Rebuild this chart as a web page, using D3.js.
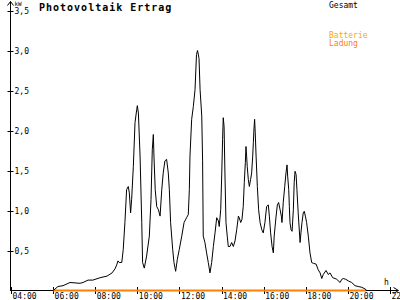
<!DOCTYPE html>
<html><head><meta charset="utf-8">
<script src="https://cdnjs.cloudflare.com/ajax/libs/d3/7.8.5/d3.min.js"></script>
<style>
html,body{margin:0;padding:0;background:#fff;}
svg{display:block;}
text{font-family:"DejaVu Sans Mono",monospace;}
</style></head><body>
<svg id="c" width="400" height="300"></svg>
<script>
const title = "Photovoltaik Ertrag";
const yUnit = "kW";
const xUnit = "h";
const xTickHours = [4,6,8,10,12,14,16,18,20,22];
const xTickLabels = ["04:00","06:00","08:00","10:00","12:00","14:00","16:00","18:00","20:00","22:"];
const yTickValues = [0.5,1.0,1.5,2.0,2.5,3.0,3.5];
const yTickLabels = ["0,5","1,0","1,5","2,0","2,5","3,0","3,5"];
const legendNames = ["Gesamt","Batterie","Ladung"];

// Gesamt (total) series: hour of day, kW
const gesamtHours = [6.01,6.23,6.47,6.80,7.28,7.42,7.66,7.89,8.23,8.56,8.80,8.94,9.02,9.08,9.14,9.26,9.33,9.41,9.49,9.57,9.62,9.68,9.73,9.81,9.89,9.97,10.00,10.05,10.13,10.21,10.25,10.33,10.44,10.57,10.65,10.71,10.76,10.79,10.85,10.92,11.00,11.08,11.16,11.23,11.31,11.39,11.47,11.52,11.58,11.68,11.74,11.82,11.90,11.99,12.11,12.22,12.34,12.42,12.47,12.50,12.58,12.66,12.74,12.81,12.86,12.93,12.98,13.06,13.10,13.13,13.21,13.29,13.37,13.45,13.53,13.61,13.69,13.77,13.85,13.89,13.96,14.01,14.05,14.08,14.12,14.16,14.21,14.27,14.32,14.40,14.48,14.56,14.64,14.72,14.80,14.84,14.91,14.97,15.03,15.08,15.13,15.16,15.19,15.22,15.27,15.32,15.38,15.43,15.48,15.51,15.54,15.57,15.60,15.64,15.70,15.76,15.83,15.91,15.98,16.06,16.14,16.22,16.27,16.33,16.40,16.46,16.50,16.59,16.65,16.71,16.78,16.84,16.87,16.93,17.00,17.06,17.11,17.14,17.19,17.22,17.25,17.30,17.35,17.41,17.45,17.49,17.54,17.58,17.64,17.73,17.77,17.82,17.88,17.93,17.98,18.04,18.12,18.20,18.28,18.36,18.49,18.59,18.68,18.76,18.83,18.96,19.07,19.15,19.28,19.39,19.47,19.63,19.71,19.78,19.90,20.02,20.18,20.34,20.49,20.66,20.81,20.90];
const gesamtKW = [0.00,0.05,0.06,0.10,0.09,0.10,0.13,0.13,0.16,0.18,0.22,0.27,0.32,0.37,0.35,0.35,0.51,0.85,1.26,1.30,1.22,0.97,1.14,1.55,2.10,2.26,2.31,2.22,1.68,0.85,0.35,0.28,0.43,0.68,1.14,1.76,1.95,1.68,1.26,1.05,1.01,0.93,1.26,1.47,1.62,1.64,1.47,1.26,0.85,0.51,0.35,0.24,0.39,0.51,0.68,0.85,0.91,0.95,1.26,1.68,2.14,2.30,2.51,2.95,3.00,2.90,2.51,2.18,1.62,0.68,0.60,0.47,0.35,0.22,0.35,0.55,0.72,0.91,0.87,0.80,1.01,1.47,1.89,2.16,2.05,1.47,0.85,0.68,0.55,0.55,0.60,0.55,0.62,0.76,0.93,0.91,0.85,0.89,1.05,1.35,1.60,1.80,1.68,1.55,1.39,1.30,1.39,1.47,1.68,1.85,2.02,2.14,1.97,1.68,1.30,1.01,0.85,0.76,0.72,0.85,1.05,1.07,0.93,0.72,0.55,0.47,0.68,0.93,1.07,1.10,1.01,0.93,0.85,1.10,1.30,1.47,1.57,1.43,1.26,1.05,0.85,0.76,0.74,1.01,1.35,1.49,1.45,1.26,0.97,0.60,0.72,0.85,0.97,0.99,0.93,0.85,0.68,0.47,0.35,0.34,0.33,0.26,0.22,0.15,0.20,0.25,0.20,0.22,0.16,0.15,0.14,0.10,0.14,0.15,0.14,0.12,0.10,0.06,0.05,0.04,0.02,0.00];

// Batterie Ladung (battery charging) series
const batterieHours = [6.0, 20.85];
const batterieKW = [0, 0];

const svg = d3.select("#c");
const x = d3.scaleLinear().domain([4,22]).range([11,390]);
const y = d3.scaleLinear().domain([0,3.5]).range([290.5,10.5]);

// Y axis
const yAxis = d3.axisRight(y).tickValues(yTickValues).tickFormat((d,i)=>yTickLabels[i]).tickSize(0).tickPadding(4);
const gy = svg.append("g").attr("transform","translate(10.5,0)").call(yAxis);
gy.select(".domain").remove();
gy.selectAll("text").attr("font-size","8px").attr("fill","#000").attr("x",4);
svg.selectAll(".ytick").data(yTickValues).enter().append("line")
  .attr("x1",7.5).attr("x2",13.5).attr("y1",d=>Math.round(y(d))+0.5).attr("y2",d=>Math.round(y(d))+0.5)
  .attr("stroke","#000").attr("stroke-width",1);
svg.append("line").attr("x1",10.5).attr("x2",10.5).attr("y1",y(0)).attr("y2",1.5).attr("stroke","#000");
svg.append("path").attr("d","M7.5,5.5L10.5,1.5L13.5,5.5").attr("fill","none").attr("stroke","#000");
svg.append("text").attr("x",14.5).attr("y",6).attr("font-size","6px").text(yUnit);

// X axis
svg.append("line").attr("x1",10).attr("x2",398).attr("y1",290.5).attr("y2",290.5).attr("stroke","#000");
svg.append("path").attr("d","M393.5,287.5L398.5,290.5L393.5,293.5").attr("fill","none").attr("stroke","#000");
const xAxis = d3.axisBottom(x).tickValues(xTickHours).tickFormat((d,i)=>xTickLabels[i]).tickSize(0).tickPadding(0);
const gx = svg.append("g").attr("transform","translate(0,290)").call(xAxis);
gx.select(".domain").remove();
gx.selectAll("text").attr("font-size","8px").attr("fill","#000").attr("text-anchor","start").attr("dx","1").attr("y",9).attr("dy","0");
svg.selectAll(".xtick").data(xTickHours).enter().append("line")
  .attr("x1",d=>Math.round(x(d))+0.5).attr("x2",d=>Math.round(x(d))+0.5).attr("y1",287).attr("y2",294)
  .attr("stroke","#000");
svg.append("text").attr("x",384).attr("y",285).attr("font-size","8px").text(xUnit);

// Battery line
const bat = batterieHours.map((h,i)=>[h,batterieKW[i]]);
svg.append("path").datum(bat)
  .attr("d",d3.line().x(d=>x(d[0])).y(d=>y(d[1])))
  .attr("fill","none").attr("stroke","#ff8000").attr("stroke-width",2);

// Gesamt line
const ges = gesamtHours.map((h,i)=>[h,gesamtKW[i]]);
svg.append("path").datum(ges)
  .attr("d",d3.line().x(d=>x(d[0])).y(d=>y(d[1])))
  .attr("fill","none").attr("stroke","#000").attr("stroke-width",1);

// Title
svg.append("text").attr("x",39).attr("y",11).attr("font-size","10px").attr("font-weight","bold")
  .attr("letter-spacing","1px").text(title);

// Legend
svg.append("text").attr("x",329).attr("y",8).attr("font-size","8px").attr("fill","#000").text(legendNames[0]);
svg.append("text").attr("x",329).attr("y",38).attr("font-size","8px").attr("fill","#ffa800").text(legendNames[1]);
svg.append("text").attr("x",329).attr("y",46).attr("font-size","8px").attr("fill","#ff8000").text(legendNames[2]);
</script>
</body></html>
